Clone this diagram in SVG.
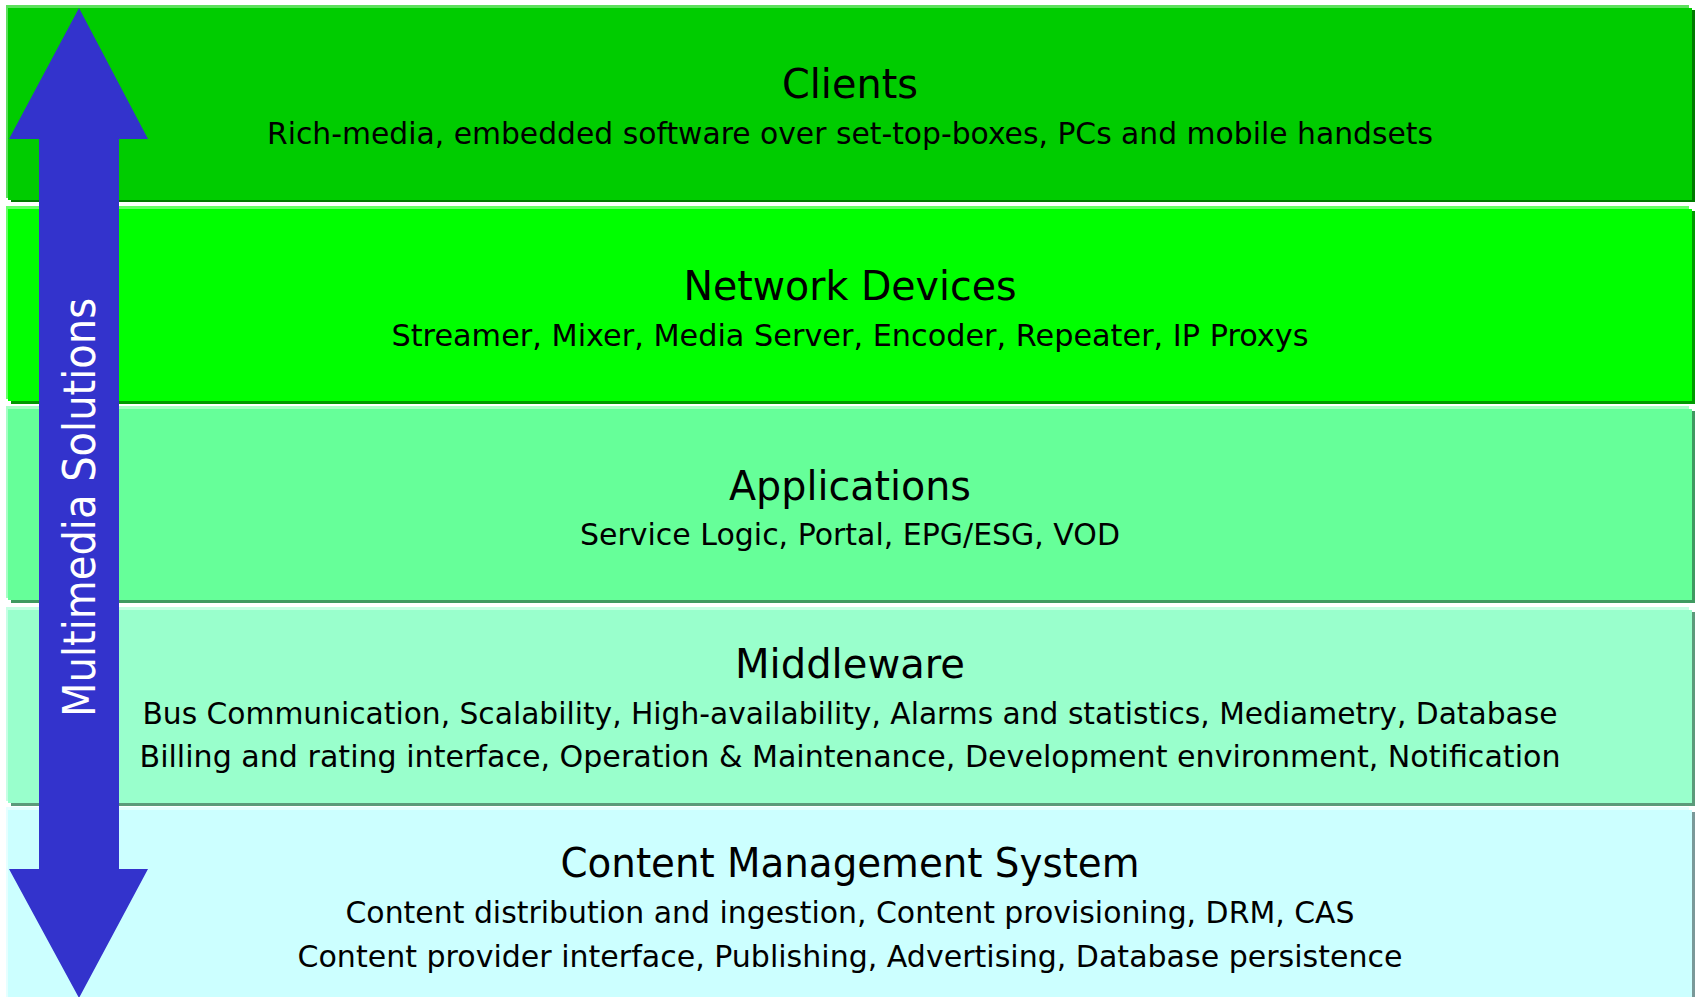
<svg xmlns="http://www.w3.org/2000/svg" width="1696" height="997" viewBox="0 0 1696 997">
  <style>
    text { font-family: "DejaVu Sans", "Liberation Sans", sans-serif; fill: #000; text-anchor: middle; }
    .title { font-size: 41px; }
    .sub { font-size: 30px; }
    .arrowText { font-size: 44px; fill: #fff; }
  </style>
  <rect width="1696" height="997" fill="#fff"/>
  <g id="clients">
    <rect x="11" y="10" width="1684" height="192" fill="#007A00"/>
    <rect x="6" y="5" width="1683" height="193" fill="#5CE05C"/>
    <rect x="8" y="8" width="1684" height="192" fill="#00CC00"/>
    <text class="title" x="850" y="98" textLength="136" lengthAdjust="spacingAndGlyphs">Clients</text>
    <text class="sub" x="850" y="144" textLength="1166" lengthAdjust="spacingAndGlyphs">Rich-media, embedded software over set-top-boxes, PCs and mobile handsets</text>
  </g>
  <g id="network-devices">
    <rect x="11" y="211" width="1684" height="193" fill="#009900"/>
    <rect x="6" y="206" width="1683" height="193" fill="#66FF66"/>
    <rect x="8" y="209" width="1684" height="192" fill="#00FF00"/>
    <text class="title" x="850" y="300" textLength="333" lengthAdjust="spacingAndGlyphs">Network Devices</text>
    <text class="sub" x="850" y="346" textLength="917" lengthAdjust="spacingAndGlyphs">Streamer, Mixer, Media Server, Encoder, Repeater, IP Proxys</text>
  </g>
  <g id="applications">
    <rect x="11" y="411" width="1684" height="192" fill="#3F9960"/>
    <rect x="6" y="406" width="1683" height="192" fill="#A6FFC4"/>
    <rect x="8" y="409" width="1684" height="191" fill="#66FF99"/>
    <text class="title" x="850" y="500" textLength="242" lengthAdjust="spacingAndGlyphs">Applications</text>
    <text class="sub" x="850" y="545" textLength="540" lengthAdjust="spacingAndGlyphs">Service Logic, Portal, EPG/ESG, VOD</text>
  </g>
  <g id="middleware">
    <rect x="11" y="612" width="1684" height="194" fill="#5C9A7A"/>
    <rect x="6" y="607" width="1683" height="194" fill="#C6FFE4"/>
    <rect x="8" y="610" width="1684" height="193" fill="#99FFCC"/>
    <text class="title" x="850" y="678" textLength="230" lengthAdjust="spacingAndGlyphs">Middleware</text>
    <text class="sub" x="850" y="724" textLength="1415" lengthAdjust="spacingAndGlyphs">Bus Communication, Scalability, High-availability, Alarms and statistics, Mediametry, Database</text>
    <text class="sub" x="850" y="767" textLength="1421" lengthAdjust="spacingAndGlyphs">Billing and rating interface, Operation &amp; Maintenance, Development environment, Notification</text>
  </g>
  <g id="content-management-system">
    <rect x="11" y="812" width="1684" height="200" fill="#7A9999"/>
    <rect x="6" y="807" width="1683" height="200" fill="#E6FFFF"/>
    <rect x="8" y="810" width="1684" height="200" fill="#CCFFFF"/>
    <text class="title" x="850" y="877" textLength="579" lengthAdjust="spacingAndGlyphs">Content Management System</text>
    <text class="sub" x="850" y="923" textLength="1009" lengthAdjust="spacingAndGlyphs">Content distribution and ingestion, Content provisioning, DRM, CAS</text>
    <text class="sub" x="850" y="967" textLength="1105" lengthAdjust="spacingAndGlyphs">Content provider interface, Publishing, Advertising, Database persistence</text>
  </g>
  <g id="connectors">
    <g id="arrow">
      <polygon points="79,8 148,139 119,139 119,869 148,869 79,998 9,869 39,869 39,139 9,139" fill="#3333CC"/>
      <text class="arrowText" transform="translate(95,507.5) rotate(-90)" x="0" y="0" textLength="419" lengthAdjust="spacingAndGlyphs">Multimedia Solutions</text>
    </g>
  </g>
</svg>
